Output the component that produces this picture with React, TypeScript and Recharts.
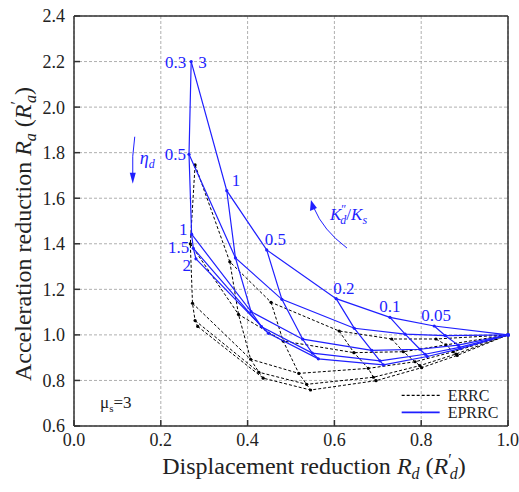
import React from 'react';
import {
    ScatterChart,
    Scatter,
    XAxis,
    YAxis,
    CartesianGrid,
    ReferenceDot,
    Label
} from 'recharts';

// damping ratios (one curve each) and stiffness ratios (columns)
const ETA = [0.3, 0.5, 1, 1.5, 2];
const K_RATIO = ['3', '1', '0.5', '0.2', '0.1', '0.05'];
const END_POINT = { x: 1.0, y: 1.0 }; // all curves meet here

// EPRRC: rows follow ETA, columns follow K_RATIO
const EPRRC_RD = [
    [0.270, 0.352, 0.444, 0.604, 0.728, 0.830],
    [0.265, 0.372, 0.479, 0.646, 0.763, 0.855],
    [0.271, 0.408, 0.527, 0.686, 0.797, 0.885],
    [0.275, 0.432, 0.549, 0.705, 0.809, 0.888],
    [0.281, 0.448, 0.563, 0.713, 0.814, 0.890]
];
const EPRRC_RA = [
    [2.200, 1.633, 1.373, 1.159, 1.077, 1.039],
    [1.793, 1.338, 1.156, 1.029, 1.003, 0.997],
    [1.442, 1.102, 0.981, 0.932, 0.937, 0.955],
    [1.380, 1.036, 0.920, 0.886, 0.915, 0.945],
    [1.334, 1.007, 0.895, 0.868, 0.905, 0.940]
];

// ERRC
const ERRC_RD = [
    [0.279, 0.359, 0.454, 0.611, 0.732, 0.834],
    [0.268, 0.379, 0.482, 0.645, 0.759, 0.857],
    [0.273, 0.407, 0.518, 0.678, 0.786, 0.874],
    [0.279, 0.426, 0.536, 0.690, 0.797, 0.880],
    [0.285, 0.436, 0.545, 0.696, 0.801, 0.883]
];
const ERRC_RA = [
    [1.746, 1.321, 1.143, 1.017, 0.982, 0.982],
    [1.400, 1.090, 0.973, 0.922, 0.926, 0.956],
    [1.139, 0.893, 0.831, 0.853, 0.882, 0.926],
    [1.063, 0.836, 0.783, 0.814, 0.865, 0.916],
    [1.037, 0.810, 0.758, 0.799, 0.856, 0.910]
];

const X_TICKS = [0, 0.2, 0.4, 0.6, 0.8, 1.0];
const Y_TICKS = [0.6, 0.8, 1.0, 1.2, 1.4, 1.6, 1.8, 2.0, 2.2, 2.4];

const BLUE = '#1f1fff';
const AXIS = '#333';
const FONT = 'Liberation Serif, Times New Roman, DejaVu Serif, serif';

type Pt = { x: number; y: number };

const etaCurves = (rd: number[][], ra: number[][]): Pt[][] =>
    rd.map((row, i) => [...row.map((x, j) => ({ x, y: ra[i][j] })), END_POINT]);

const kCurves = (rd: number[][], ra: number[][]): Pt[][] =>
    K_RATIO.map((_, j) => rd.map((row, i) => ({ x: row[j], y: ra[i][j] })));

const dot = (color: string) => (p: any) => <circle cx={p.cx} cy={p.cy} r={1.6} fill={color} />;
const noDot = () => <g />;

// text labels placed next to grid vertices (pixel offsets)
const ETA_LABELS = [
    { text: '0.3', dx: -5, dy: 6 },
    { text: '0.5', dx: -3, dy: 6 },
    { text: '1', dx: -4, dy: 1 },
    { text: '1.5', dx: -4, dy: 5 },
    { text: '2', dx: -5, dy: 12 }
];
const K_LABELS = [
    { dx: 7, dy: 6, anchor: 'start' },
    { dx: 5, dy: -5, anchor: 'start' },
    { dx: -2, dy: -5, anchor: 'start' },
    { dx: -3, dy: -5, anchor: 'start' },
    { dx: 0, dy: -5, anchor: 'middle' },
    { dx: 2, dy: -5, anchor: 'middle' }
];

export default function App() {
    const blueEta = etaCurves(EPRRC_RD, EPRRC_RA);
    const blueK = kCurves(EPRRC_RD, EPRRC_RA);
    const blackEta = etaCurves(ERRC_RD, ERRC_RA);
    const blackK = kCurves(ERRC_RD, ERRC_RA);

    return (
        <div style={{ position: 'absolute', left: 0, top: 0, background: '#fff', fontFamily: FONT }}>
            <ScatterChart width={519} height={492} margin={{ top: 15, right: 10, bottom: 0, left: 0 }}>
                <CartesianGrid stroke="#9a9a9a" strokeDasharray="3 2" strokeWidth={0.8} />
                <XAxis
                    dataKey="x"
                    type="number"
                    domain={[0, 1]}
                    ticks={X_TICKS}
                    height={66}
                    tickFormatter={(v: number) => v.toFixed(1)}
                    tick={{ fontSize: 18, fill: '#222', fontFamily: FONT }}
                    tickSize={-6}
                    tickMargin={13}
                    axisLine={{ stroke: AXIS, strokeWidth: 1.5 }}
                    tickLine={{ stroke: AXIS, strokeWidth: 1.5 }}
                >
                    <Label
                        content={({ viewBox }: any) => (
                            <text x={viewBox.x + viewBox.width / 2 + 23} y={viewBox.y + 48} textAnchor="middle" fontFamily={FONT} fontSize={24} fill="#222">
                                Displacement reduction <tspan fontStyle="italic">R</tspan>
                                <tspan fontStyle="italic" fontSize={16} dy={5}>d</tspan>
                                <tspan dy={-5}> (</tspan>
                                <tspan fontStyle="italic">R</tspan>
                                <tspan fontSize={16} dy={-9}>′</tspan>
                                <tspan fontStyle="italic" fontSize={16} dx={-2} dy={14}>d</tspan>
                                <tspan dy={-5}>)</tspan>
                            </text>
                        )}
                    />
                </XAxis>
                <XAxis
                    xAxisId="top"
                    orientation="top"
                    type="number"
                    domain={[0, 1]}
                    ticks={X_TICKS}
                    height={1}
                    tick={false}
                    tickSize={-6}
                    axisLine={{ stroke: AXIS, strokeWidth: 1.5 }}
                    tickLine={{ stroke: AXIS, strokeWidth: 1.5 }}
                />
                <YAxis
                    dataKey="y"
                    type="number"
                    domain={[0.6, 2.4]}
                    ticks={Y_TICKS}
                    width={74}
                    tickFormatter={(v: number) => v.toFixed(1)}
                    tick={{ fontSize: 18, fill: '#222', fontFamily: FONT }}
                    tickSize={-6}
                    tickMargin={15}
                    axisLine={{ stroke: AXIS, strokeWidth: 1.5 }}
                    tickLine={{ stroke: AXIS, strokeWidth: 1.5 }}
                >
                    <Label
                        content={() => (
                            <text x={31} y={234} transform="rotate(-90, 31, 234)" textAnchor="middle" fontFamily={FONT} fontSize={24} fill="#222">
                                Acceleration reduction <tspan fontStyle="italic">R</tspan>
                                <tspan fontStyle="italic" fontSize={16} dy={5}>a</tspan>
                                <tspan dy={-5}> (</tspan>
                                <tspan fontStyle="italic">R</tspan>
                                <tspan fontSize={16} dy={-9}>′</tspan>
                                <tspan fontStyle="italic" fontSize={16} dx={-2} dy={14}>a</tspan>
                                <tspan dy={-5}>)</tspan>
                            </text>
                        )}
                    />
                </YAxis>
                <YAxis
                    yAxisId="right"
                    orientation="right"
                    type="number"
                    domain={[0.6, 2.4]}
                    ticks={Y_TICKS}
                    width={1}
                    tick={false}
                    tickSize={-6}
                    axisLine={{ stroke: AXIS, strokeWidth: 1.5 }}
                    tickLine={{ stroke: AXIS, strokeWidth: 1.5 }}
                />

                {blackEta.map((pts, i) => (
                    <Scatter key={`be-${i}`} data={pts} fill="#000" line={{ stroke: '#000', strokeWidth: 1, strokeDasharray: '3 2' }} shape={dot('#000')} isAnimationActive={false} />
                ))}
                {blackK.map((pts, i) => (
                    <Scatter key={`bk-${i}`} data={pts} fill="#000" line={{ stroke: '#000', strokeWidth: 1, strokeDasharray: '3 2' }} shape={noDot} isAnimationActive={false} />
                ))}
                {blueEta.map((pts, i) => (
                    <Scatter key={`ue-${i}`} data={pts} fill={BLUE} line={{ stroke: BLUE, strokeWidth: 1.2 }} shape={dot(BLUE)} isAnimationActive={false} />
                ))}
                {blueK.map((pts, i) => (
                    <Scatter key={`uk-${i}`} data={pts} fill={BLUE} line={{ stroke: BLUE, strokeWidth: 1.2 }} shape={noDot} isAnimationActive={false} />
                ))}

                {ETA_LABELS.map((l, i) => (
                    <ReferenceDot
                        key={`el-${i}`}
                        x={EPRRC_RD[i][0]}
                        y={EPRRC_RA[i][0]}
                        r={0}
                        shape={(p: any) => (
                            <text x={p.cx + l.dx} y={p.cy + l.dy} textAnchor="end" fontFamily={FONT} fontSize={17} fill={BLUE}>{l.text}</text>
                        )}
                    />
                ))}
                {K_LABELS.map((l, j) => (
                    <ReferenceDot
                        key={`kl-${j}`}
                        x={EPRRC_RD[0][j]}
                        y={EPRRC_RA[0][j]}
                        r={0}
                        shape={(p: any) => (
                            <text x={p.cx + l.dx} y={p.cy + l.dy} textAnchor={l.anchor as any} fontFamily={FONT} fontSize={17} fill={BLUE}>{K_RATIO[j]}</text>
                        )}
                    />
                ))}

                {/* eta_d arrow */}
                <ReferenceDot
                    x={0.14}
                    y={1.87}
                    r={0}
                    shape={(p: any) => (
                        <g>
                            <path d={`M${p.cx},${p.cy} Q${p.cx - 3},${p.cy + 20} ${p.cx - 2},${p.cy + 38}`} stroke={BLUE} strokeWidth={1} fill="none" />
                            <path d={`M${p.cx - 5},${p.cy + 36} L${p.cx - 2},${p.cy + 47} L${p.cx + 1},${p.cy + 36} Z`} fill={BLUE} />
                            <text x={p.cx + 5} y={p.cy + 27} fontFamily={FONT} fontSize={18} fontStyle="italic" fill={BLUE}>
                                η<tspan fontSize={12} dy={4}>d</tspan>
                            </text>
                        </g>
                    )}
                />
                {/* K_d''/K_s arrow */}
                <ReferenceDot
                    x={0.546}
                    y={1.592}
                    r={0}
                    shape={(p: any) => (
                        <g>
                            <path d={`M${p.cx + 36},${p.cy + 48} Q${p.cx + 12},${p.cy + 30} ${p.cx + 3},${p.cy + 8}`} stroke={BLUE} strokeWidth={1} fill="none" />
                            <path d={`M${p.cx},${p.cy} L${p.cx - 1},${p.cy + 11} L${p.cx + 6},${p.cy + 8} Z`} fill={BLUE} />
                            <text x={p.cx + 19} y={p.cy + 20} fontFamily={FONT} fontSize={17} fontStyle="italic" fill={BLUE}>
                                K<tspan fontSize={12} dy={-7} fontStyle="normal">″</tspan>
                                <tspan fontSize={12} dx={-6} dy={11}>d</tspan>
                                <tspan dy={-4} fontStyle="normal">/</tspan>
                                <tspan>K</tspan>
                                <tspan fontSize={12} dy={4}>s</tspan>
                            </text>
                        </g>
                    )}
                />
                {/* mu_s note */}
                <ReferenceDot
                    x={0.06}
                    y={0.68}
                    r={0}
                    shape={(p: any) => (
                        <text x={p.cx} y={p.cy} fontFamily={FONT} fontSize={17} fill="#222">
                            μ<tspan fontSize={11} dy={4}>s</tspan><tspan dy={-4}>=3</tspan>
                        </text>
                    )}
                />
                {/* legend */}
                <ReferenceDot
                    x={0.755}
                    y={0.73}
                    r={0}
                    shape={(p: any) => (
                        <g fontFamily={FONT} fontSize={16} fill="#222">
                            <line x1={p.cx} x2={p.cx + 38} y1={p.cy - 1} y2={p.cy - 1} stroke="#000" strokeWidth={1.3} strokeDasharray="3 2" />
                            <text x={p.cx + 46} y={p.cy + 5}>ERRC</text>
                            <line x1={p.cx} x2={p.cx + 38} y1={p.cy + 16} y2={p.cy + 16} stroke={BLUE} strokeWidth={1.8} />
                            <text x={p.cx + 46} y={p.cy + 22}>EPRRC</text>
                        </g>
                    )}
                />
            </ScatterChart>
        </div>
    );
}
